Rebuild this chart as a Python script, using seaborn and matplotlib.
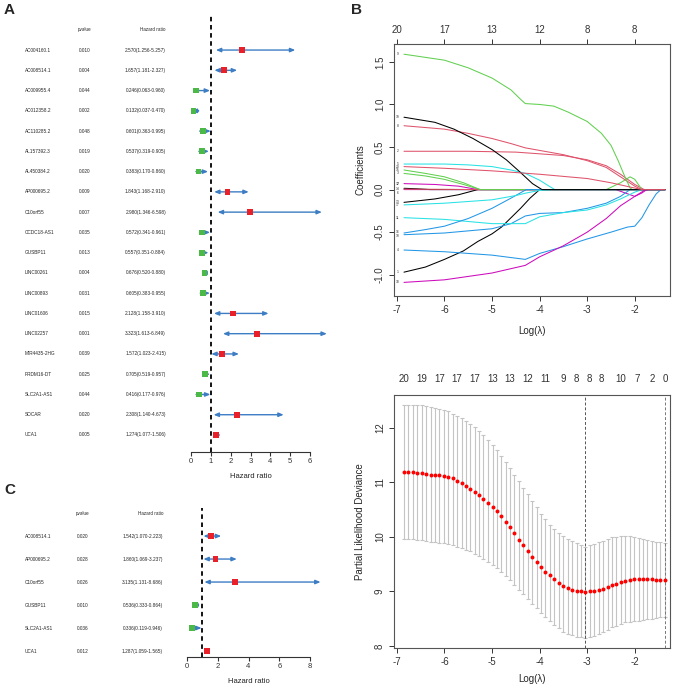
import numpy as np
import pandas as pd
import seaborn as sns
import matplotlib
matplotlib.use("Agg")
from matplotlib import pyplot as plt
from matplotlib.transforms import blended_transform_factory

# ---- panel A: univariate Cox ----
genes_a = ["AC004160.1", "AC008514.1", "AC009955.4", "AC012358.2", "AC110285.2",
           "AL157392.3", "AL450384.2", "AP000695.2", "C10orf55", "CCDC18-AS1",
           "GUSBP11", "LINC00261", "LINC00893", "LINC01606", "LINC02257",
           "MIR4435-2HG", "PRDM16-DT", "SLC2A1-AS1", "SOCAR", "UCA1"]
pval_a = ["0.010", "0.004", "0.044", "0.002", "0.048", "0.019", "0.020", "0.009", "0.007", "0.035",
          "0.013", "0.004", "0.031", "0.015", "0.001", "0.039", "0.025", "0.044", "0.020", "0.005"]
hr_a = [2.570, 1.657, 0.246, 0.132, 0.601, 0.537, 0.383, 1.843, 2.980, 0.572,
        0.557, 0.676, 0.605, 2.128, 3.323, 1.572, 0.705, 0.416, 2.308, 1.274]
lo_a = [1.256, 1.181, 0.063, 0.037, 0.363, 0.319, 0.170, 1.168, 1.346, 0.341,
        0.351, 0.520, 0.383, 1.158, 1.613, 1.023, 0.519, 0.177, 1.140, 1.077]
hi_a = [5.257, 2.327, 0.960, 0.470, 0.995, 0.905, 0.860, 2.910, 6.598, 0.961,
        0.884, 0.880, 0.955, 3.910, 6.849, 2.415, 0.957, 0.976, 4.673, 1.506]

# ---- panel C: multivariate Cox ----
genes_c = ["AC008514.1", "AP000695.2", "C10orf55", "GUSBP11", "SLC2A1-AS1", "UCA1"]
pval_c = ["0.020", "0.028", "0.026", "0.010", "0.036", "0.012"]
hr_c = [1.542, 1.860, 3.135, 0.536, 0.336, 1.287]
lo_c = [1.070, 1.069, 1.131, 0.333, 0.119, 1.059]
hi_c = [2.223, 3.237, 8.686, 0.864, 0.946, 1.565]

# ---- panel B top: lasso coefficient paths (log lambda, coefficient) ----
path_01 = [(-6.85, -0.97), (-6.4, -0.91), (-6.0, -0.82), (-5.6, -0.72), (-5.3, -0.61), (-5.0, -0.52),
           (-4.8, -0.44), (-4.6, -0.33), (-4.4, -0.22), (-4.2, -0.10), (-4.0, 0.0), (-1.36, 0.0)]
path_02 = [(-6.85, 0.45), (-5.5, 0.45), (-4.5, 0.44), (-4.0, 0.42), (-3.5, 0.40), (-3.0, 0.35),
           (-2.6, 0.28), (-2.3, 0.18), (-2.0, 0.06), (-1.8, 0.0), (-1.36, 0.0)]
path_03 = [(-6.85, 0.19), (-6.4, 0.16), (-6.0, 0.12), (-5.6, 0.06), (-5.25, 0.0), (-2.6, 0.0),
           (-2.3, 0.08), (-2.1, 0.15), (-2.0, 0.12), (-1.85, 0.0), (-1.36, 0.0)]
path_04 = [(-6.85, -0.71), (-6.0, -0.73), (-5.0, -0.77), (-4.3, -0.82), (-4.0, -0.75), (-3.5, -0.67),
           (-3.0, -0.58), (-2.5, -0.50), (-2.15, -0.44), (-2.0, -0.43), (-1.85, -0.33), (-1.7, -0.18),
           (-1.55, -0.05), (-1.45, 0.0), (-1.36, 0.0)]
path_05 = [(-6.85, 0.30), (-6.0, 0.30), (-5.5, 0.29), (-5.0, 0.27), (-4.6, 0.23), (-4.3, 0.19),
           (-4.0, 0.11), (-3.8, 0.04), (-3.68, 0.0), (-1.36, 0.0)]
path_06 = [(-6.85, 0.0), (-2.4, 0.0), (-2.2, -0.04), (-2.0, -0.08), (-1.85, -0.04), (-1.75, 0.0), (-1.36, 0.0)]
path_07 = [(-6.85, 0.015), (-6.6, 0.01), (-6.3, 0.0), (-1.36, 0.0)]
path_08 = [(-6.85, 0.75), (-6.0, 0.71), (-5.5, 0.66), (-5.0, 0.60), (-4.6, 0.54), (-4.3, 0.49),
           (-4.0, 0.46), (-3.5, 0.41), (-3.0, 0.34), (-2.6, 0.26), (-2.3, 0.15), (-2.0, 0.04),
           (-1.85, 0.0), (-1.36, 0.0)]
path_09 = [(-6.85, 1.59), (-6.0, 1.52), (-5.5, 1.43), (-5.0, 1.31), (-4.6, 1.17), (-4.4, 1.06),
           (-4.3, 1.01), (-4.0, 1.00), (-3.7, 0.98), (-3.4, 0.91), (-3.0, 0.80), (-2.7, 0.66),
           (-2.5, 0.52), (-2.35, 0.34), (-2.2, 0.14), (-2.1, 0.02), (-2.05, 0.0), (-1.36, 0.0)]
path_10 = [(-6.85, -0.53), (-6.0, -0.51), (-5.0, -0.46), (-4.6, -0.40), (-4.3, -0.31), (-4.0, -0.28),
           (-3.5, -0.27), (-3.0, -0.22), (-2.6, -0.16), (-2.3, -0.08), (-2.1, 0.0), (-1.36, 0.0)]
path_11 = [(-6.85, -0.33), (-6.0, -0.35), (-5.0, -0.40), (-4.3, -0.40), (-4.0, -0.32), (-3.5, -0.27),
           (-3.0, -0.24), (-2.6, -0.18), (-2.3, -0.11), (-2.0, -0.03), (-1.85, 0.0), (-1.36, 0.0)]
path_12 = [(-6.85, 0.07), (-6.2, 0.06), (-5.7, 0.04), (-5.3, 0.0), (-1.36, 0.0)]
path_13 = [(-6.85, -0.15), (-6.2, -0.11), (-5.7, -0.06), (-5.3, 0.0), (-1.36, 0.0)]
path_14 = [(-6.85, 0.005), (-6.0, 0.003), (-5.3, 0.0), (-1.36, 0.0)]
path_15 = [(-6.85, 0.23), (-6.4, 0.19), (-6.0, 0.15), (-5.6, 0.08), (-5.25, 0.0), (-1.36, 0.0)]
path_16 = [(-6.85, -0.51), (-6.4, -0.47), (-6.0, -0.43), (-5.5, -0.34), (-5.0, -0.22), (-4.6, -0.10),
           (-4.28, 0.0), (-1.36, 0.0)]
path_17 = [(-6.85, -0.18), (-6.0, -0.16), (-5.0, -0.12), (-4.5, -0.07), (-4.28, -0.04), (-4.0, -0.01),
           (-3.7, 0.0), (-1.36, 0.0)]
path_18 = [(-6.85, -1.09), (-6.0, -1.06), (-5.0, -0.98), (-4.3, -0.89), (-4.0, -0.79), (-3.5, -0.66),
           (-3.0, -0.50), (-2.6, -0.34), (-2.3, -0.19), (-2.0, -0.08), (-1.8, -0.01), (-1.7, 0.0),
           (-1.36, 0.0)]
path_19 = [(-6.85, 0.85), (-6.2, 0.79), (-5.8, 0.71), (-5.4, 0.60), (-5.0, 0.47), (-4.7, 0.35),
           (-4.4, 0.20), (-4.15, 0.07), (-3.95, 0.0), (-1.36, 0.0)]
path_20 = [(-6.85, 0.27), (-6.0, 0.25), (-5.0, 0.22), (-4.0, 0.18), (-3.0, 0.13), (-2.5, 0.08),
           (-2.1, 0.03), (-1.85, 0.0), (-1.36, 0.0)]
paths = [path_01, path_02, path_03, path_04, path_05, path_06, path_07, path_08, path_09, path_10,
         path_11, path_12, path_13, path_14, path_15, path_16, path_17, path_18, path_19, path_20]
df_top_ticks = [-7, -6, -5, -4, -3, -2]
df_top_labels = ["20", "17", "13", "12", "8", "8"]

# ---- panel B bottom: cross-validation ----
log_lambda = [-6.85, -6.76, -6.66, -6.57, -6.48, -6.39, -6.29, -6.20, -6.11, -6.01,
              -5.92, -5.83, -5.74, -5.64, -5.55, -5.46, -5.36, -5.27, -5.18, -5.08,
              -4.99, -4.90, -4.81, -4.71, -4.62, -4.53, -4.43, -4.34, -4.25, -4.15,
              -4.06, -3.97, -3.88, -3.78, -3.69, -3.60, -3.50, -3.41, -3.32, -3.22,
              -3.13, -3.04, -2.95, -2.85, -2.76, -2.67, -2.57, -2.48, -2.39, -2.29,
              -2.20, -2.11, -2.02, -1.92, -1.83, -1.74, -1.64, -1.55, -1.46, -1.36]
cv_mean = [11.19, 11.19, 11.18, 11.17, 11.17, 11.16, 11.14, 11.14, 11.13, 11.11,
           11.10, 11.07, 11.03, 10.98, 10.93, 10.87, 10.82, 10.77, 10.69, 10.62,
           10.55, 10.47, 10.38, 10.28, 10.17, 10.06, 9.94, 9.84, 9.73, 9.63,
           9.53, 9.44, 9.36, 9.30, 9.22, 9.16, 9.10, 9.06, 9.03, 9.01,
           9.00, 8.99, 9.00, 9.01, 9.03, 9.05, 9.08, 9.11, 9.14, 9.17,
           9.19, 9.21, 9.22, 9.23, 9.22, 9.22, 9.22, 9.21, 9.21, 9.21]
cv_upper = [12.42, 12.42, 12.42, 12.41, 12.41, 12.40, 12.38, 12.37, 12.35, 12.33,
            12.30, 12.26, 12.22, 12.18, 12.13, 12.07, 12.01, 11.94, 11.86, 11.78,
            11.69, 11.59, 11.48, 11.37, 11.26, 11.14, 11.02, 10.90, 10.78, 10.66,
            10.54, 10.42, 10.32, 10.22, 10.15, 10.07, 10.01, 9.96, 9.93, 9.88,
            9.84, 9.82, 9.84, 9.87, 9.90, 9.93, 9.96, 9.99, 10.00, 10.01,
            10.01, 10.01, 9.99, 9.98, 9.96, 9.94, 9.93, 9.91, 9.90, 9.88]
cv_lower = [9.96, 9.95, 9.95, 9.94, 9.94, 9.93, 9.91, 9.90, 9.89, 9.88,
            9.87, 9.85, 9.82, 9.79, 9.76, 9.73, 9.69, 9.65, 9.60, 9.54,
            9.48, 9.42, 9.35, 9.28, 9.20, 9.12, 9.03, 8.95, 8.86, 8.77,
            8.69, 8.60, 8.53, 8.45, 8.39, 8.32, 8.26, 8.22, 8.19, 8.17,
            8.16, 8.15, 8.16, 8.18, 8.21, 8.25, 8.29, 8.34, 8.37, 8.40,
            8.43, 8.44, 8.45, 8.46, 8.48, 8.49, 8.50, 8.51, 8.53, 8.53]
cv_top_pos = [-6.85, -6.48, -6.11, -5.74, -5.36, -4.99, -4.62, -4.25, -3.88, -3.50,
              -3.22, -2.95, -2.71, -2.29, -1.94, -1.64, -1.36]
cv_top_labels = ["20", "19", "17", "17", "17", "13", "13", "12", "11", "9",
                 "8", "8", "8", "10", "7", "2", "0"]
lambda_min = -3.04
lambda_1se = -1.36

# ---------------------------------------------------------------
sns.set_theme(style="ticks")
plt.rcParams["font.family"] = ["Liberation Sans", "DejaVu Sans"]
plt.rcParams["axes.unicode_minus"] = False

W, H = 676, 685
fig = plt.figure(figsize=(W / 100, H / 100), dpi=100)


def px_axes(left, top, right, bottom):
    return fig.add_axes([left / W, 1 - bottom / H, (right - left) / W, (bottom - top) / H])


def forest(ax, genes, pvals, hr, lo, hi, xmax, ticks, cols):
    rows = np.arange(len(genes))
    ax.axvline(1, color="black", ls=(0, (2.5, 2)), lw=1.3, zorder=1)
    for r, l, h in zip(rows, lo, hi):
        ax.annotate("", xy=(h, r), xytext=(l, r),
                    arrowprops=dict(arrowstyle="<|-|>,head_length=0.24,head_width=0.1",
                                    color="#3C7DC4", lw=1.0, shrinkA=0, shrinkB=0),
                    annotation_clip=False)
    kind = ["up" if v > 1 else "down" for v in hr]
    sns.scatterplot(x=hr, y=rows, hue=kind, palette={"up": "#E8202A", "down": "#4CB848"},
                    marker="s", s=17, linewidth=0, legend=False, ax=ax, zorder=3)
    ax.set_xlim(0, xmax)
    ax.set_xticks(ticks)
    ax.set_xticklabels([str(t) for t in ticks])
    ax.set_yticks([])
    ax.set_ylabel("")
    for s in ["left", "right", "top"]:
        ax.spines[s].set_visible(False)
    ax.spines["bottom"].set_color("#333333")
    ax.spines["bottom"].set_linewidth(0.8)
    ax.tick_params(axis="x", length=3, width=0.8, labelsize=5.5, pad=1, colors="#333333")
    ax.set_xlabel("Hazard ratio", fontsize=5.5, labelpad=6, color="#222222")
    tr = blended_transform_factory(fig.transFigure, ax.transData)
    gx, px_, hx = cols
    ax.text(px_ / W, -1, "pvalue", transform=tr, fontsize=3.3, ha="center", va="center")
    ax.text(hx / W, -1, "Hazard ratio", transform=tr, fontsize=3.3, ha="right", va="center")
    for r, g, p, h, l, u in zip(rows, genes, pvals, hr, lo, hi):
        ax.text(gx / W, r, g, transform=tr, fontsize=3.4, ha="left", va="center")
        ax.text(px_ / W, r, p, transform=tr, fontsize=3.4, ha="center", va="center")
        ax.text(hx / W, r, f"{h:.3f}({l:.3f}-{u:.3f})", transform=tr, fontsize=3.4,
                ha="right", va="center")


# panel A
ax_a = px_axes(191, 15, 310, 452)
forest(ax_a, genes_a, pval_a, hr_a, lo_a, hi_a, 6, [0, 1, 2, 3, 4, 5, 6], (25, 85, 166))
ax_a.set_ylim(19.84, -1.73)

# panel C
ax_c = px_axes(187, 508, 310, 657)
forest(ax_c, genes_c, pval_c, hr_c, lo_c, hi_c, 8, [0, 2, 4, 6, 8], (25, 83, 163))
ax_c.set_ylim(5.26, -1.22)


def r_box(ax):
    for s in ax.spines.values():
        s.set_color("#555555")
        s.set_linewidth(0.8)
    ax.tick_params(length=3.5, width=0.7, labelsize=7, colors="#333333", pad=3)


# panel B top: coefficient paths
r_cols = ["#000000", "#DF536B", "#61D04F", "#2297E6", "#28E2E5", "#CD0BBC"]
recs = []
for i, p in enumerate(paths, start=1):
    for k, (x, y) in enumerate(p):
        recs.append({"var": str(i), "order": k, "loglambda": x, "coef": y})
coef_df = pd.DataFrame(recs)
pal = {str(i): r_cols[(i - 1) % 6] for i in range(1, 21)}

ax_b1 = px_axes(394, 44, 670, 296)
sns.lineplot(data=coef_df, x="loglambda", y="coef", hue="var", palette=pal, sort=False,
             estimator=None, lw=0.75, legend=False, ax=ax_b1)
# small variable numbers at the left end of each path (nudged apart where they collide)
label_nudge = {10: -0.02, 16: 0.015, 7: 0.05, 14: 0.005, 6: -0.04}
for i, p in enumerate(paths, start=1):
    ax_b1.text(-6.98, p[0][1] + label_nudge.get(i, 0), str(i), fontsize=2.4,
               ha="center", va="center", color="#333333")
ax_b1.set_xlim(-7.06, -1.26)
ax_b1.set_ylim(-1.25, 1.71)
ax_b1.set_xticks([-7, -6, -5, -4, -3, -2])
ax_b1.set_yticks([-1.0, -0.5, 0.0, 0.5, 1.0, 1.5])
ax_b1.set_yticklabels(["-1.0", "-0.5", "0.0", "0.5", "1.0", "1.5"], rotation=90, va="center")
ax_b1.set_xlabel("Log(λ)", fontsize=7, labelpad=8)
ax_b1.set_ylabel("Coefficients", fontsize=7, labelpad=7)
r_box(ax_b1)
sec1 = ax_b1.secondary_xaxis("top")
sec1.set_xticks(df_top_ticks)
sec1.set_xticklabels(df_top_labels)
sec1.tick_params(length=3.5, width=0.7, labelsize=7, colors="#333333", pad=3)
sec1.spines["top"].set_visible(False)

# panel B bottom: CV deviance
ax_b2 = px_axes(394, 395, 670, 648)
ll = np.array(log_lambda)
m = np.array(cv_mean)
ax_b2.errorbar(ll, m, yerr=[m - np.array(cv_lower), np.array(cv_upper) - m], fmt="none",
               ecolor="#C4C4C4", elinewidth=0.8, capsize=1.3, capthick=0.8, zorder=1)
sns.scatterplot(x=ll, y=m, color="#FF0000", s=8, linewidth=0, ax=ax_b2, zorder=3)
ax_b2.axvline(lambda_min, color="#555555", ls=(0, (3, 2)), lw=0.7)
ax_b2.axvline(lambda_1se, color="#777777", ls=(0, (3, 2)), lw=0.7)
ax_b2.set_xlim(-7.06, -1.26)
ax_b2.set_ylim(7.96, 12.6)
ax_b2.set_xticks([-7, -6, -5, -4, -3, -2])
ax_b2.set_yticks([8, 9, 10, 11, 12])
ax_b2.set_yticklabels(["8", "9", "10", "11", "12"], rotation=90, va="center")
ax_b2.set_xlabel("Log(λ)", fontsize=7, labelpad=5)
ax_b2.set_ylabel("Partial Likelihood Deviance", fontsize=7, labelpad=7)
r_box(ax_b2)
sec2 = ax_b2.secondary_xaxis("top")
sec2.set_xticks(cv_top_pos)
sec2.set_xticklabels(cv_top_labels)
sec2.tick_params(length=0, labelsize=7, colors="#333333", pad=8)
sec2.spines["top"].set_visible(False)

# panel letters
for lab, x, y in [("A", 4, 10), ("B", 351, 10), ("C", 4, 490)]:
    fig.text(x / W, 1 - y / H, lab, fontsize=11, fontweight="bold", ha="left", va="center")

fig.savefig("out.png", dpi=100)
